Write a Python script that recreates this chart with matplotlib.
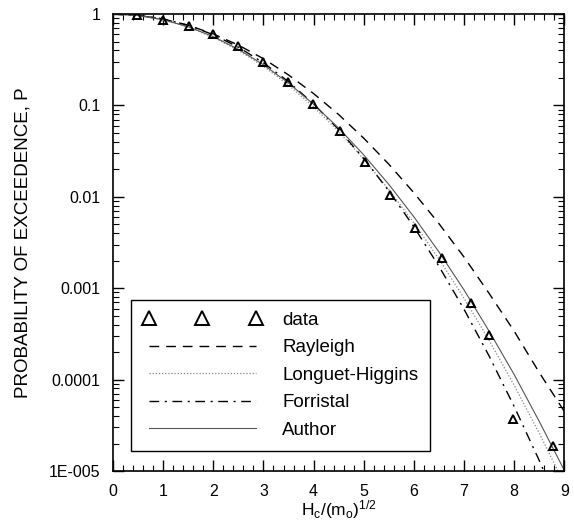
import matplotlib
matplotlib.use("Agg")
import matplotlib.pyplot as plt
from matplotlib.ticker import FixedLocator, FixedFormatter, MultipleLocator, LogLocator, NullFormatter

plt.rcParams['font.family'] = ['Liberation Sans', 'DejaVu Sans']
plt.rcParams['mathtext.default'] = 'regular'

# measured exceedance data (triangles)
data_x = [0.48, 1.0, 1.52, 2.0, 2.49, 3.0, 3.49, 3.99, 4.53, 5.03, 5.53, 6.03, 6.57, 7.13, 7.49, 7.98, 8.78]
data_p = [0.99, 0.86, 0.74, 0.60, 0.45, 0.30, 0.18, 0.104, 0.052, 0.024, 0.0105, 0.0046, 0.00213,
          0.00069, 0.00031, 0.000037, 0.000019]

# curves
curve_x = [0, 0.5, 1, 1.5, 2, 2.5, 3, 3.5, 4, 4.5, 5, 5.5, 6, 6.5, 7, 7.5, 8, 8.5, 9]
rayleigh = [1, 0.969, 0.882, 0.755, 0.607, 0.458, 0.325, 0.216, 0.135, 0.0796, 0.0439, 0.0228,
            0.0111, 0.0051, 0.0022, 0.00088, 0.00034, 0.00012, 0.000045]
longuet = [1, 0.964, 0.864, 0.720, 0.557, 0.401, 0.269, 0.167, 0.0966, 0.0519, 0.0259, 0.0120,
           0.0052, 0.00209, 0.00078, 0.00027, 0.000087, 0.000026, 0.0000073]
forristal = [1, 0.973, 0.888, 0.755, 0.595, 0.435, 0.293, 0.182, 0.104, 0.0546, 0.0263, 0.01164,
             0.00471, 0.00174, 0.00059, 0.000182, 0.000051, 0.0000131, 0.0000031]
author = [1, 0.965, 0.868, 0.727, 0.567, 0.412, 0.279, 0.176, 0.103, 0.0566, 0.0288, 0.0137,
          0.00606, 0.0025, 0.00096, 0.00034, 0.000114, 0.000035, 0.0000102]

ytick_vals = [1e-5, 1e-4, 1e-3, 1e-2, 1e-1, 1]
ytick_labels = ['1E-005', '0.0001', '0.001', '0.01', '0.1', '1']

fig = plt.figure(figsize=(5.74, 5.23), dpi=100)
ax = fig.add_axes([0.197, 0.0994, 0.786, 0.8736])

ax.plot(curve_x, rayleigh, color='black', lw=1.0, dashes=(7, 5), label='Rayleigh')
ax.plot(curve_x, longuet, color='#888888', lw=0.9, dashes=(1, 1.5), label='Longuet-Higgins')
ax.plot(curve_x, forristal, color='black', lw=1.0, dashes=(7, 4, 1.5, 4), label='Forristal')
ax.plot(curve_x, author, color='#555555', lw=0.8, label='Author')
ax.plot(data_x, data_p, linestyle='none', marker='^', markersize=6, markerfacecolor='none',
        markeredgecolor='black', markeredgewidth=1.4, label='data')

ax.set_yscale('log')
ax.set_xlim(0, 9)
ax.set_ylim(1e-5, 1)

ax.xaxis.set_major_locator(MultipleLocator(1))
ax.xaxis.set_minor_locator(MultipleLocator(0.2))
ax.yaxis.set_major_locator(FixedLocator(ytick_vals))
ax.yaxis.set_major_formatter(FixedFormatter(ytick_labels))
ax.yaxis.set_minor_locator(LogLocator(base=10, subs=range(2, 10)))
ax.yaxis.set_minor_formatter(NullFormatter())

ax.tick_params(which='both', direction='in', top=True, right=True, labelsize=11.5)
ax.tick_params(which='major', length=8, width=1, pad=9)
ax.tick_params(which='minor', length=4, width=0.8)
for s in ax.spines.values():
    s.set_linewidth(1.2)

ax.set_xlabel('H$_c$/(m$_o$)$^{1/2}$', fontsize=12.5, labelpad=0)
ax.set_ylabel('PROBABILITY OF EXCEEDENCE, P', fontsize=13.5, labelpad=13)

handles, labels = ax.get_legend_handles_labels()
order = [4, 0, 1, 2, 3]
leg = ax.legend([handles[i] for i in order], [labels[i] for i in order],
                loc='lower left', bbox_to_anchor=(0.04, 0.044), numpoints=3,
                markerscale=1.6, handlelength=6.3, handletextpad=1.1, fontsize=13.5,
                labelspacing=0.55, fancybox=False, framealpha=1, edgecolor='black',
                borderpad=0.65, borderaxespad=0)
leg.get_frame().set_linewidth(1.0)

fig.savefig('out.png', dpi=100)
